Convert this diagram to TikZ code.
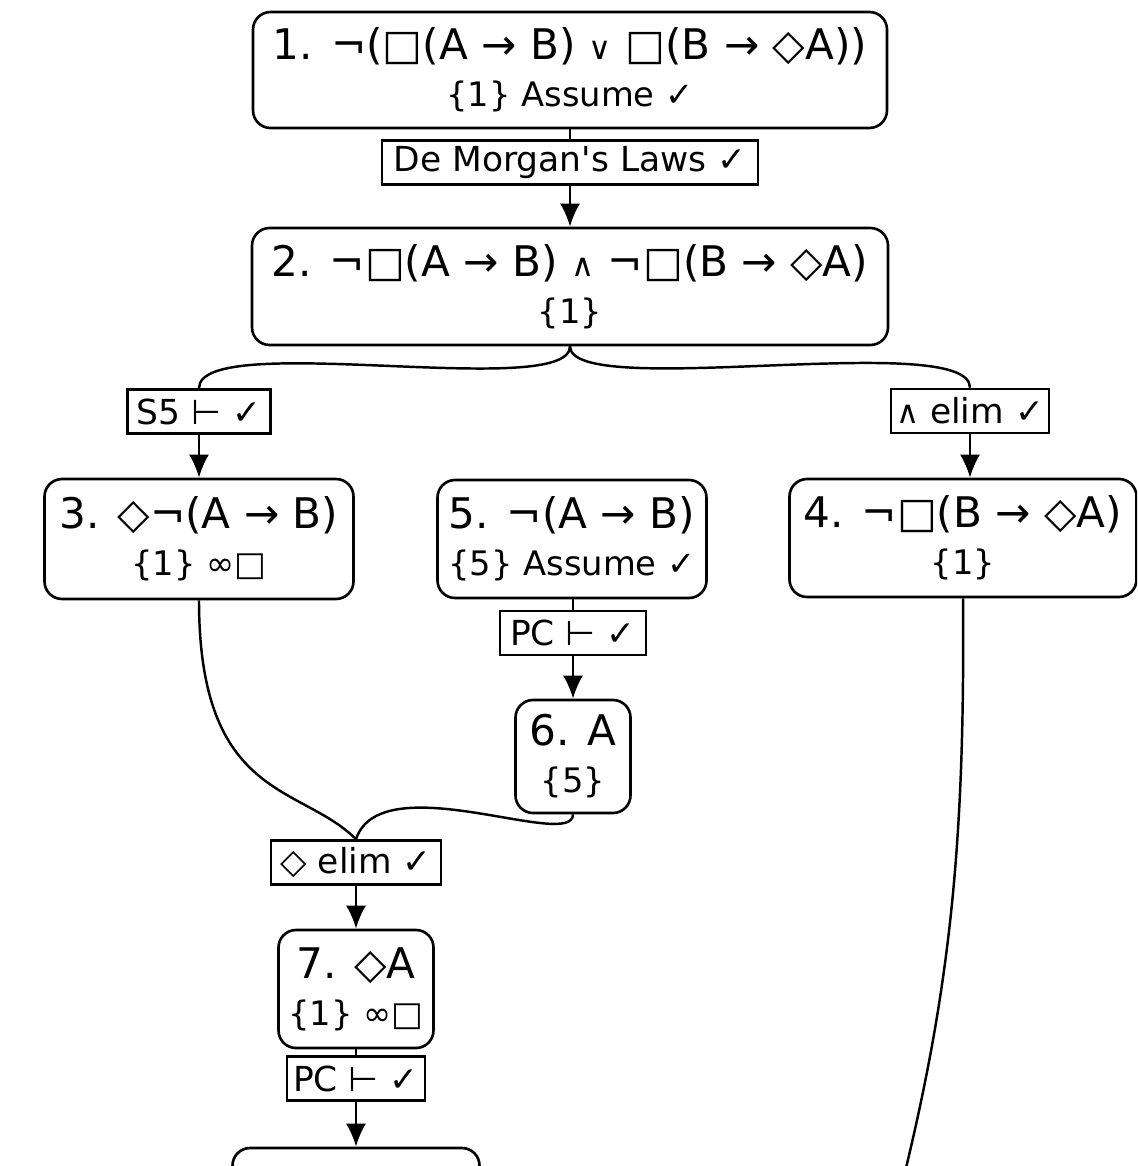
\documentclass[tikz,border=0pt]{standalone}
\usepackage{fontspec}
\setmainfont{DejaVu Sans}
\usepackage{tikz}
\usetikzlibrary{arrows.meta}
\tikzstyle{pfline}=[draw, line width=.75pt, rounded corners=5pt, align=center, inner sep=0pt, font=\fontsize{9.6}{13.4}\selectfont]
\tikzstyle{pfrule}=[draw, line width=.75pt, inner sep=0pt, minimum height=.44cm, font=\fontsize{9.8}{11}\selectfont]
\tikzstyle{pfwire}=[line width=.7pt]
\tikzstyle{pfarrow}=[line width=.7pt, -{Latex[length=2.3mm,width=2mm]}]
\newcommand{\fmla}[1]{{\fontsize{12}{13.4}\selectfont #1}}
\newcommand{\sor}{{\fontsize{9}{9}\selectfont ∨}}
\newcommand{\sand}{{\fontsize{9}{9}\selectfont ∧}}
\newcommand{\ok}{{\bfseries ✓}}

\begin{document}
\begin{tikzpicture}
	\useasboundingbox (0,0) rectangle (11.37,-11.66);
	\clip (0,0) rectangle (11.37,-11.66);
%
	\node[pfline, minimum width=6.34cm, minimum height=1.16cm] (l1) at (5.70,-.70) {\fmla{1. ¬(□(A → B) \sor{} □(B → ◇A))}\\ \{1\} Assume \ok};
	\node[pfrule, minimum width=3.76cm] (r12) at (5.70,-1.625) {De Morgan\textquotesingle s Laws \ok};
	\node[pfline, minimum width=6.36cm, minimum height=1.17cm] (l2) at (5.70,-2.865) {\fmla{2. ¬□(A → B) \sand{} ¬□(B → ◇A)}\\ \{1\}};
%
	\node[pfrule, minimum width=1.43cm] (s5) at (1.99,-4.115) {S5 ⊢ \ok};
	\node[pfrule, minimum width=1.58cm] (ae) at (9.70,-4.11) {\sand{} elim \ok};
%
	\node[pfline, minimum width=3.09cm, minimum height=1.20cm] (l3) at (1.99,-5.39) {\fmla{3. ◇¬(A → B)}\\ \{1\} ∞□};
	\node[pfline, minimum width=2.69cm, minimum height=1.18cm] (l5) at (5.72,-5.39) {\fmla{5. ¬(A → B)}\\ \{5\} Assume \ok};
	\node[pfline, minimum width=3.47cm, minimum height=1.18cm] (l4) at (9.63,-5.38) {\fmla{4. ¬□(B → ◇A)}\\ \{1\}};
%
	\node[pfrule, minimum width=1.46cm] (pc1) at (5.73,-6.33) {PC ⊢ \ok};
	\node[pfline, minimum width=1.15cm, minimum height=1.13cm] (l6) at (5.73,-7.565) {\fmla{6. A}\\ \{5\}};
%
	\node[pfrule, minimum width=1.70cm] (de) at (3.56,-8.625) {◇ elim \ok};
	\node[pfline, minimum width=1.55cm, minimum height=1.18cm] (l7) at (3.56,-9.89) {\fmla{7. ◇A}\\ \{1\} ∞□};
	\node[pfrule, minimum width=1.38cm] (pc2) at (3.56,-10.785) {PC ⊢ \ok};
	\node[pfline, minimum width=2.47cm, minimum height=1.2cm] (l8) at (3.56,-12.08) {};
	\coordinate (off4) at (8.93,-12.20);
%
	\draw[pfwire] (l1.south) -- (r12.north);
	\draw[pfarrow] (r12.south) -- (l2.north);
	\draw[pfwire] (l2.south) .. controls +(0,-.55) and +(0,.59) .. (s5.north);
	\draw[pfwire] (l2.south) .. controls +(0,-.55) and +(0,.59) .. (ae.north);
	\draw[pfarrow] (s5.south) -- (l3.north);
	\draw[pfarrow] (ae.south) -- (ae.south |- l4.north);
%
	\draw[pfwire] (l5.south -| pc1.north) -- (pc1.north);
	\draw[pfarrow] (pc1.south) -- (l6.north);
	\draw[pfwire] (l3.south) .. controls +(0,-2.0) and +(-.55,.55) .. (de.north);
	\draw[pfwire] (l6.south) .. controls +(0,-.37) and +(.25,.75) .. (de.north);
	\draw[pfarrow] (de.south) -- (l7.north);
	\draw[pfwire] (l7.south) -- (pc2.north);
	\draw[pfarrow] (pc2.south) -- (l8.north);
%
	\draw[pfwire] (l4.south) .. controls +(.02,-2.52) and +(.57,2.2) .. (off4);
\end{tikzpicture}
\end{document}
